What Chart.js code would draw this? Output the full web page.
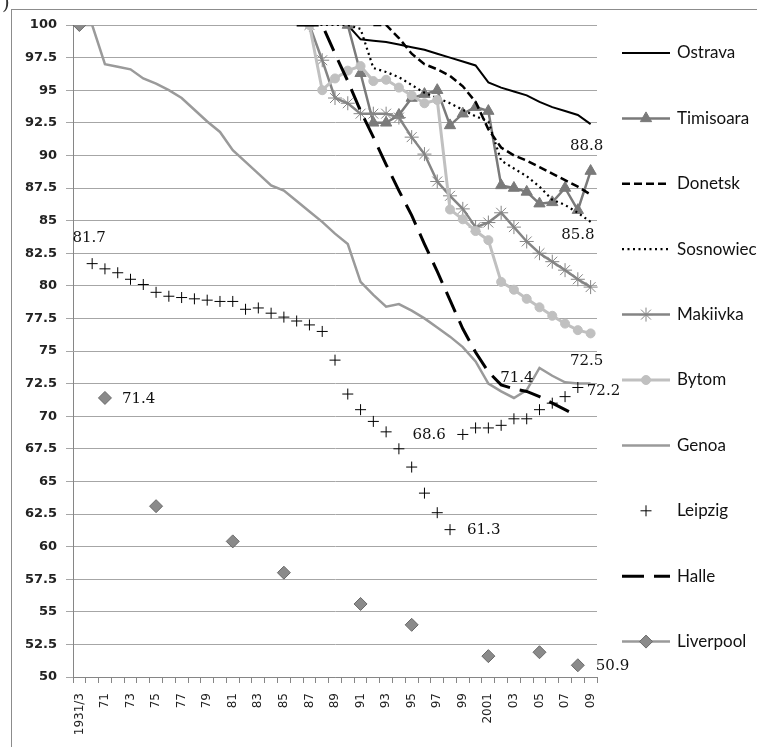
<!DOCTYPE html>
<html><head><meta charset="utf-8">
<script src="https://cdn.jsdelivr.net/npm/chart.js@4"></script>
<style>
html,body{margin:0;padding:0;background:#fff;}
#wrap{position:relative;width:757px;height:747px;overflow:hidden;background:#fff;}
#paren{position:absolute;left:2px;top:-10px;font:20px 'DejaVu Serif';color:#333;}
canvas{position:absolute;left:0;top:0;}
</style></head><body>
<div id="wrap"><canvas id="c" width="757" height="747"></canvas><span id="paren">)</span></div>
<script>
const N = null;
const categories = ['1931/3','70','71','72','73','74','75','76','77','78','79','80','81','82','83','84','85','86','87','88','89','90','91','92','93','94','95','96','97','98','99','2000','2001','02','03','04','05','06','07','08','09'];
const seriesNames = ['Ostrava','Timisoara','Donetsk','Sosnowiec','Makiivka','Bytom','Genoa','Leipzig','Halle','Liverpool'];

const ostrava = [N,N,N,N,N,N,N,N,N,N,N,N,N,N,N,N,N,N,N,N,N,
  100,98.9,98.8,98.7,98.5,98.3,98.1,97.8,97.5,97.2,96.9,95.6,95.2,94.9,94.6,94.1,93.7,93.4,93.1,92.4];
const timisoara = [N,N,N,N,N,N,N,N,N,N,N,N,N,N,N,N,N,N,N,N,N,
  100,96.3,92.5,92.5,93.1,94.4,94.7,95.0,92.3,93.2,93.7,93.4,87.7,87.5,87.2,86.3,86.4,87.5,85.8,88.8];
const donetsk = [N,N,N,N,N,N,N,N,N,N,N,N,N,N,N,N,N,N,N,N,N,N,N,
  100,100,99.0,97.8,97.0,96.6,96.1,95.3,94.1,92.0,90.6,90.0,89.6,89.1,88.6,88.1,87.6,87.0];
const sosnowiec = [N,N,N,N,N,N,N,N,N,N,N,N,N,N,N,N,N,N,
  100,100,100,100,99.7,96.7,96.4,96.0,95.4,94.8,94.4,94.0,93.5,93.0,92.6,89.6,89.0,88.4,87.6,86.6,86.2,85.6,84.9];
const makiivka = [N,N,N,N,N,N,N,N,N,N,N,N,N,N,N,N,N,N,
  100,97.3,94.4,94.0,93.2,93.2,93.2,92.9,91.4,90.1,88.0,86.9,85.9,84.5,84.85,85.6,84.5,83.4,82.5,81.85,81.2,80.5,79.9];
const bytom = [N,N,N,N,N,N,N,N,N,N,N,N,N,N,N,N,N,N,
  100,95.0,95.9,96.5,96.85,95.7,95.8,95.2,94.6,94.0,94.25,85.85,85.1,84.2,83.5,80.3,79.7,79.0,78.35,77.7,77.1,76.6,76.35];
const genoa = [100,100,97.0,96.8,96.6,95.9,95.5,95.0,94.4,93.5,92.6,91.8,90.4,89.5,88.6,87.7,87.3,86.5,85.7,84.9,84.0,
  83.2,80.3,79.3,78.4,78.6,78.1,77.5,76.8,76.1,75.3,74.2,72.5,71.9,71.4,72.0,73.7,73.1,72.6,72.5,72.5];
const leipzig = [100,81.7,81.3,81.0,80.5,80.1,79.5,79.2,79.1,79.0,78.9,78.8,78.8,78.2,78.3,77.9,77.6,77.3,77.0,76.5,74.3,
  71.7,70.5,69.6,68.8,67.5,66.1,64.1,62.6,61.3,68.6,69.1,69.1,69.3,69.8,69.8,70.5,71.0,71.5,72.2,N];
const halle = [N,N,N,N,N,N,N,N,N,N,N,N,N,N,N,N,N,
  100,100,100,97.8,95.7,93.4,91.4,89.3,87.3,85.4,83.2,81.1,78.9,76.7,74.9,73.4,72.4,72.1,71.9,71.5,71.0,70.5,70.0,N];
const liverpool = [100,N,71.4,N,N,N,63.1,N,N,N,N,N,60.4,N,N,N,58.0,N,N,N,N,N,55.6,N,N,N,54.0,N,N,N,N,N,51.6,N,N,N,51.9,N,N,50.9,N];

const yTicks = {min:50, max:100, step:2.5};

// data labels shown on the chart: series, category index, placement
const dataLabels = [
  {series:'Leipzig', idx:1, align:'center', dx:-3, dy:-26},
  {series:'Liverpool', idx:2, align:'left', dx:17, dy:1},
  {series:'Leipzig', idx:30, align:'right', dx:-17, dy:1},
  {series:'Leipzig', idx:29, align:'left', dx:17, dy:0},
  {series:'Leipzig', idx:39, align:'left', dx:9, dy:4},
  {series:'Genoa', idx:40, align:'center', dx:-4, dy:-22},
  {series:'Genoa', idx:34, align:'center', dx:3, dy:-20},
  {series:'Timisoara', idx:40, align:'center', dx:-4, dy:-25},
  {series:'Timisoara', idx:39, align:'center', dx:0, dy:25},
  {series:'Liverpool', idx:39, align:'left', dx:18, dy:1}
];

const styles = {
  Ostrava:   {borderColor:'#000000', borderWidth:2, borderDash:[], pointStyle:'circle', pointRadius:0},
  Timisoara: {borderColor:'#7a7a7a', borderWidth:2.5, borderDash:[], pointStyle:'triangle', pointRadius:6.5, pointBackgroundColor:'#7a7a7a', pointBorderColor:'#7a7a7a', pointBorderWidth:1},
  Donetsk:   {borderColor:'#000000', borderWidth:2.5, borderDash:[8,4], pointStyle:'circle', pointRadius:0},
  Sosnowiec: {borderColor:'#000000', borderWidth:2.2, borderDash:[2,3.5], pointStyle:'circle', pointRadius:0},
  Makiivka:  {borderColor:'#858585', borderWidth:2.5, borderDash:[], pointStyle:'star', pointRadius:7, pointBackgroundColor:'#858585', pointBorderColor:'#858585', pointBorderWidth:1},
  Bytom:     {borderColor:'#c0c0c0', borderWidth:3, borderDash:[], pointStyle:'circle', pointRadius:4.5, pointBackgroundColor:'#c0c0c0', pointBorderColor:'#c0c0c0', pointBorderWidth:1},
  Genoa:     {borderColor:'#9a9a9a', borderWidth:2.5, borderDash:[], pointStyle:'circle', pointRadius:0},
  Leipzig:   {borderColor:'#000000', borderWidth:1, borderDash:[], showLine:false, pointStyle:'cross', pointRadius:5.5, pointBackgroundColor:'#000', pointBorderColor:'#000', pointBorderWidth:1},
  Halle:     {borderColor:'#000000', borderWidth:3, borderDash:[22,10], pointStyle:'circle', pointRadius:0},
  Liverpool: {borderColor:'#9a9a9a', borderWidth:2.5, borderDash:[], pointStyle:'rectRot', pointRadius:6.5, pointBackgroundColor:'#8a8a8a', pointBorderColor:'#6a6a6a', pointBorderWidth:1}
};
const seriesData = {Ostrava:ostrava, Timisoara:timisoara, Donetsk:donetsk, Sosnowiec:sosnowiec, Makiivka:makiivka, Bytom:bytom, Genoa:genoa, Leipzig:leipzig, Halle:halle, Liverpool:liverpool};

const datasets = seriesNames.map((name, i) => Object.assign({
  label: name, data: seriesData[name], fill:false, tension:0, spanGaps:false,
  order: seriesNames.length - i, pointHoverRadius:0
}, styles[name]));

function drawMarker(ctx, st, x, y) {
  if (!st.pointRadius) return;
  const r = st.pointRadius;
  ctx.save();
  ctx.setLineDash([]);
  ctx.lineWidth = st.pointBorderWidth || 1;
  ctx.strokeStyle = st.pointBorderColor || st.borderColor;
  ctx.fillStyle = st.pointBackgroundColor || st.borderColor;
  ctx.beginPath();
  switch (st.pointStyle) {
    case 'triangle':
      ctx.moveTo(x, y - r); ctx.lineTo(x + 0.866*r, y + 0.5*r); ctx.lineTo(x - 0.866*r, y + 0.5*r); ctx.closePath();
      ctx.fill(); ctx.stroke(); break;
    case 'circle':
      ctx.arc(x, y, r, 0, Math.PI*2); ctx.fill(); ctx.stroke(); break;
    case 'rectRot':
      ctx.moveTo(x - r, y); ctx.lineTo(x, y - r); ctx.lineTo(x + r, y); ctx.lineTo(x, y + r); ctx.closePath();
      ctx.fill(); ctx.stroke(); break;
    case 'cross':
      ctx.moveTo(x - r, y); ctx.lineTo(x + r, y); ctx.moveTo(x, y - r); ctx.lineTo(x, y + r); ctx.stroke(); break;
    case 'star': {
      ctx.moveTo(x - r, y); ctx.lineTo(x + r, y); ctx.moveTo(x, y - r); ctx.lineTo(x, y + r);
      const d = r * Math.SQRT1_2;
      ctx.moveTo(x - d, y - d); ctx.lineTo(x + d, y + d); ctx.moveTo(x - d, y + d); ctx.lineTo(x + d, y - d);
      ctx.stroke(); break;
    }
  }
  ctx.restore();
}

const framePlugin = {
  id: 'frame',
  beforeDraw(chart) {
    const ctx = chart.ctx;
    ctx.save();
    ctx.fillStyle = '#fff'; ctx.fillRect(0, 0, chart.width, chart.height);
    ctx.strokeStyle = '#8c8c8c'; ctx.lineWidth = 1;
    ctx.strokeRect(11.5, 9.5, 900, 900);
    ctx.restore();
  }
};

const legendPlugin = {
  id: 'sideLegend',
  afterDraw(chart) {
    const ctx = chart.ctx;
    seriesNames.forEach((name, i) => {
      const st = styles[name];
      const y = 53 + 65.4 * i;
      if (st.showLine !== false) {
        ctx.save();
        ctx.strokeStyle = st.borderColor; ctx.lineWidth = st.borderWidth;
        ctx.setLineDash(st.borderDash || []);
        ctx.beginPath(); ctx.moveTo(622, y); ctx.lineTo(670, y); ctx.stroke();
        ctx.restore();
      }
      drawMarker(ctx, st, 646, y);
      ctx.save();
      ctx.fillStyle = '#111'; ctx.font = '17px Lato'; ctx.textBaseline = 'middle'; ctx.textAlign = 'left';
      ctx.fillText(name, 677, y);
      ctx.restore();
    });
  }
};

const labelPlugin = {
  id: 'valueLabels',
  afterDatasetsDraw(chart) {
    const ctx = chart.ctx;
    ctx.save();
    ctx.font = '15px "DejaVu Serif"'; ctx.fillStyle = '#111'; ctx.textBaseline = 'middle';
    dataLabels.forEach(l => {
      const di = seriesNames.indexOf(l.series);
      const pt = chart.getDatasetMeta(di).data[l.idx];
      const v = seriesData[l.series][l.idx];
      ctx.textAlign = l.align;
      ctx.fillText(v.toFixed(1), pt.x + l.dx, pt.y + l.dy);
    });
    ctx.restore();
  }
};

new Chart(document.getElementById('c'), {
  type: 'line',
  data: { labels: categories, datasets },
  options: {
    responsive: false, animation: false, devicePixelRatio: 1, events: [],
    layout: { padding: { top: 25, right: 160, left: 0, bottom: 0 } },
    plugins: { legend: { display: false }, tooltip: { enabled: false } },
    scales: {
      x: {
        type: 'category', offset: true,
        grid: { offset: true, drawOnChartArea: false, drawTicks: true, tickLength: 6, color: '#868686' },
        border: { color: '#868686', width: 1 },
        ticks: {
          autoSkip: false, maxRotation: 90, minRotation: 90, padding: 10,
          font: { family: 'DejaVu Sans', size: 12 }, color: '#222',
          callback: (v, i) => (i % 2 === 0 ? categories[i] : '')
        },
        afterFit: s => { s.height = 70; }
      },
      y: {
        min: yTicks.min, max: yTicks.max,
        ticks: { stepSize: yTicks.step, padding: 9, font: { family: 'DejaVu Sans', size: 13, weight: 'bold' }, color: '#222' },
        grid: { color: '#a6a6a6', tickLength: 7, drawTicks: true },
        border: { color: '#868686', width: 1 },
        afterFit: s => { s.width = 73; }
      }
    }
  },
  plugins: [framePlugin, legendPlugin, labelPlugin]
});
</script>
</body></html>
